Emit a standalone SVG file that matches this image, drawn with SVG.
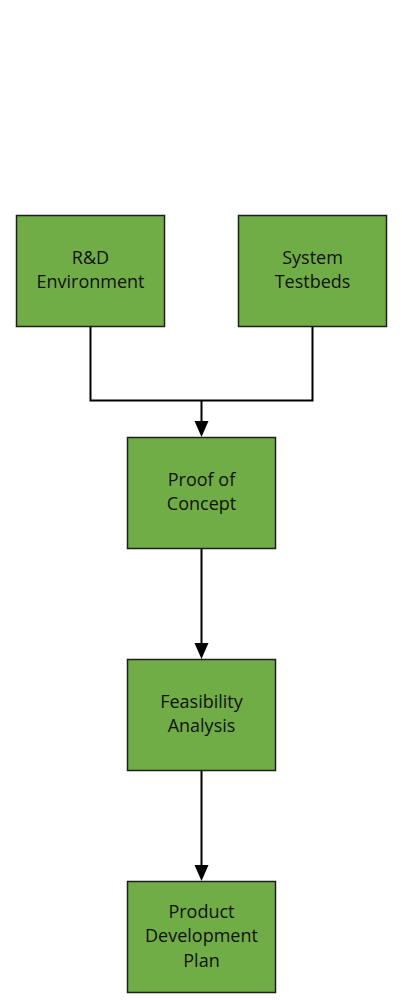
<svg xmlns="http://www.w3.org/2000/svg" width="402" height="1001" viewBox="0 0 402 1001">
<style>
.box{fill:#70AD47;stroke:#1E1E1E;stroke-width:1.5}
.t{font-family:"Open Sans","Liberation Sans",sans-serif;font-size:18px;fill:#111;text-anchor:middle;dominant-baseline:central}
.c{fill:none;stroke:#000;stroke-width:2}
</style>
<rect width="402" height="1001" fill="#fff"/>
<g id="connectors">
<path class="c" d="M90.5,326.5 V400.5 H312.5 V326.5"/>
<path class="c" d="M201.5,400.5 V421"/>
<path d="M194.5,421 L208.5,421 L201.5,437 Z" fill="#000"/>
<path class="c" d="M201.5,548.5 V643"/>
<path d="M194.5,643 L208.5,643 L201.5,659 Z" fill="#000"/>
<path class="c" d="M201.5,770.5 V865"/>
<path d="M194.5,865 L208.5,865 L201.5,881 Z" fill="#000"/>
</g>
<g id="rd">
<rect class="box" x="16.5" y="215.5" width="148" height="111"/>
<text class="t" x="90.5" y="256.5">R&amp;D</text>
<text class="t" x="90.5" y="281">Environment</text>
</g>
<g id="testbeds">
<rect class="box" x="238.5" y="215.5" width="148" height="111"/>
<text class="t" x="312.5" y="256.5">System</text>
<text class="t" x="312.5" y="281">Testbeds</text>
</g>
<g id="poc">
<rect class="box" x="127.5" y="437.5" width="148" height="111"/>
<text class="t" x="201.5" y="478.5">Proof of</text>
<text class="t" x="201.5" y="503">Concept</text>
</g>
<g id="feasibility">
<rect class="box" x="127.5" y="659.5" width="148" height="111"/>
<text class="t" x="201.5" y="700.5">Feasibility</text>
<text class="t" x="201.5" y="725">Analysis</text>
</g>
<g id="plan">
<rect class="box" x="127.5" y="881.5" width="148" height="111"/>
<text class="t" x="201.5" y="910.5">Product</text>
<text class="t" x="201.5" y="935">Development</text>
<text class="t" x="201.5" y="959.5">Plan</text>
</g>
</svg>
